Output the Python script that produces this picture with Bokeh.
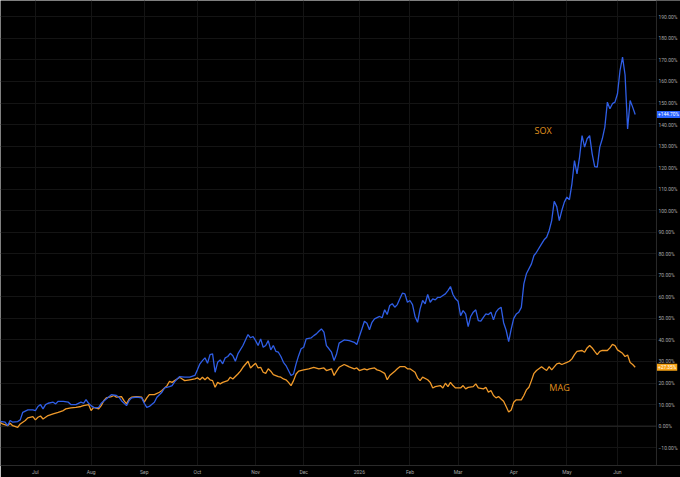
from bokeh.plotting import figure
from bokeh.models import FixedTicker, Label, Span, Range1d, BoxAnnotation
from bokeh.embed import file_html
from bokeh.resources import INLINE

# ---- data (x = trading-day index from chart start, y = % change) ----
sox_x = [0, 2, 3, 4, 5, 7, 8, 9, 11, 13, 14, 15, 16, 17, 18, 19, 21, 22, 23, 25, 27, 28, 30, 32, 33, 34, 35, 36, 37, 38,
         39, 40, 42, 44, 46, 47, 48, 50, 51, 52, 54, 56, 57, 58, 59, 61, 62, 64, 65, 67, 68, 69, 70, 71, 73, 75, 77, 78,
         79, 80, 81, 82, 83, 84, 85, 86, 87, 88, 89, 90, 91, 92, 93, 94, 96, 97, 98, 99, 100, 101, 102, 103, 104, 105,
         106, 107, 108, 109, 110, 111, 112, 113, 114, 115, 116, 117, 118, 119, 120, 121, 123, 124, 125, 126, 127, 128,
         129, 130, 131, 132, 133, 134, 136, 138, 140, 141, 142, 143, 144, 145, 146, 147, 148, 150, 151, 152, 153, 154,
         155, 156, 157, 158, 159, 160, 161, 162, 163, 164, 165, 166, 167, 168, 169, 170, 171, 172, 173, 174, 175, 176,
         177, 178, 179, 180, 181, 182, 183, 184, 185, 186, 187, 188, 189, 190, 191, 192, 193, 194, 195, 196, 197, 198,
         199, 200, 201, 202, 203, 204, 205, 206, 207, 208, 210, 211, 212, 214, 215, 216, 217, 218, 219, 220, 221, 222,
         223, 224, 225, 226, 227, 228, 229, 230, 231, 232, 233, 234, 235, 236, 237, 238, 239, 240, 241, 242, 243, 244,
         245, 246, 247, 248, 249, 250, 251]
sox_y = [2.2, 1.8, 0.2, 2.6, 1.8, 2.1, 2.9, 6.4, 7.5, 7.5, 7.2, 9.1, 10.0, 8.0, 10.0, 10.6, 11.1, 10.3, 11.5, 11.5, 11.1,
         10.0, 10.0, 11.1, 10.6, 12.3, 10.6, 9.5, 8.7, 8.5, 8.7, 10.6, 12.6, 14.6, 14.2, 13.4, 11.8, 9.5, 11.8, 13.1,
         13.4, 13.1, 10.6, 8.7, 9.1, 11.1, 13.4, 15.7, 17.7, 18.3, 18.8, 20.5, 21.9, 23.0, 22.7, 22.7, 23.5, 26.1, 28.9,
         30.4, 31.7, 29.2, 33.2, 33.5, 25.0, 29.6, 30.7, 28.9, 31.7, 32.3, 33.8, 32.7, 30.1, 33.5, 37.4, 40.0, 42.5,
         41.0, 41.6, 39.7, 37.4, 40.5, 36.6, 37.4, 39.7, 35.4, 37.4, 34.7, 34.3, 32.3, 29.6, 28.1, 25.8, 23.5, 24.2,
         28.9, 32.7, 35.9, 36.6, 40.5, 41.0, 42.0, 42.8, 44.0, 45.1, 43.6, 37.4, 35.9, 34.3, 30.4, 33.5, 38.5, 40.0,
         39.7, 38.9, 37.9, 41.6, 45.1, 48.7, 47.7, 44.7, 48.2, 49.8, 50.9, 50.3, 54.0, 51.8, 56.0, 56.8, 55.2, 56.4,
         59.1, 61.7, 61.4, 57.5, 58.3, 56.4, 50.9, 48.2, 54.4, 58.3, 56.8, 61.1, 57.5, 59.1, 58.6, 59.8, 59.8, 60.6,
         61.4, 62.9, 64.8, 61.1, 59.1, 58.0, 51.3, 53.6, 52.1, 46.2, 50.9, 52.9, 54.0, 49.0, 48.7, 50.5, 52.1, 51.8,
         52.9, 49.3, 52.9, 54.4, 55.2, 48.0, 44.5, 39.2, 45.0, 50.0, 52.0, 52.9, 55.1, 66.0, 70.7, 75.3, 79.2, 80.7,
         84.6, 86.5, 87.7, 90.8, 95.4, 104.4, 101.9, 95.4, 100.1, 104.0, 106.3, 105.1, 112.5, 123.3, 117.1, 124.8,
         134.9, 129.5, 133.4, 134.9, 126.4, 120.5, 120.2, 129.5, 133.4, 138.8, 150.4, 147.3, 149.7, 150.4, 154.3,
         165.1, 171.3, 163.0, 138.0, 151.2, 148.1, 144.7]

mag_x = [0, 1, 3, 4, 5, 7, 8, 10, 11, 13, 14, 15, 16, 17, 19, 21, 23, 25, 26, 28, 30, 32, 33, 35, 36, 37, 39, 40, 41, 42,
         44, 45, 46, 48, 49, 50, 51, 52, 54, 56, 57, 58, 59, 61, 63, 64, 66, 67, 68, 69, 70, 71, 72, 73, 75, 77, 78, 79,
         80, 81, 82, 83, 84, 85, 86, 87, 88, 90, 91, 92, 94, 95, 96, 98, 99, 100, 101, 102, 103, 104, 105, 106, 107,
         108, 110, 111, 112, 113, 114, 115, 116, 117, 118, 120, 122, 124, 126, 128, 129, 131, 132, 133, 134, 136, 137,
         138, 140, 141, 142, 144, 145, 146, 148, 149, 150, 152, 153, 154, 156, 157, 158, 160, 161, 162, 164, 165, 166,
         167, 169, 170, 171, 172, 174, 175, 176, 177, 178, 179, 180, 182, 183, 184, 185, 187, 188, 189, 191, 192, 193,
         194, 195, 196, 197, 198, 199, 200, 201, 202, 203, 204, 206, 207, 208, 209, 210, 211, 212, 214, 215, 216, 217,
         218, 220, 221, 222, 224, 225, 226, 227, 228, 230, 231, 232, 233, 234, 235, 236, 237, 238, 240, 241, 242, 243,
         244, 246, 247, 248, 249, 250, 251]
mag_y = [1.8, 1.0, 0.2, 1.3, 0.2, -0.6, 1.0, 2.6, 3.8, 4.4, 2.9, 4.1, 4.7, 3.3, 4.9, 5.7, 6.4, 7.2, 8.0, 8.5, 8.7, 9.1,
         9.5, 10.0, 7.2, 8.7, 8.0, 9.5, 11.8, 13.1, 13.7, 14.2, 13.4, 13.7, 11.8, 10.3, 12.6, 13.4, 13.7, 13.4, 11.1,
         13.1, 14.6, 14.6, 15.7, 16.5, 18.8, 20.8, 20.3, 21.1, 21.9, 22.7, 21.9, 21.1, 21.5, 21.9, 22.4, 21.5, 22.7,
         21.5, 22.7, 21.5, 21.1, 18.0, 20.3, 19.6, 20.3, 21.1, 22.7, 21.9, 24.2, 25.5, 27.3, 30.1, 27.0, 28.1, 29.2,
         27.0, 27.3, 25.0, 24.5, 26.6, 25.5, 23.9, 23.0, 22.7, 21.9, 21.5, 20.3, 18.8, 21.1, 24.2, 25.5, 26.1, 26.6,
         27.3, 26.6, 27.0, 25.8, 26.6, 23.5, 25.5, 27.3, 28.6, 28.1, 27.5, 26.6, 27.0, 25.8, 26.6, 26.1, 26.6, 27.0,
         26.1, 25.8, 24.5, 21.5, 23.5, 25.5, 26.6, 27.6, 27.6, 26.6, 26.6, 25.0, 22.4, 21.1, 22.7, 21.5, 20.3, 17.7,
         18.3, 18.8, 17.7, 19.9, 18.3, 20.3, 18.8, 17.7, 17.7, 18.8, 17.3, 18.0, 18.3, 19.6, 17.7, 17.3, 18.0, 15.7,
         16.5, 14.2, 13.1, 13.7, 12.6, 11.5, 9.1, 6.5, 7.5, 11.1, 12.2, 12.2, 14.2, 16.8, 18.0, 21.1, 24.5, 25.8,
         27.6, 26.6, 25.8, 27.6, 26.1, 28.9, 29.2, 28.6, 29.6, 30.1, 31.2, 33.2, 34.7, 35.1, 34.3, 36.3, 37.4, 36.3,
         34.7, 33.2, 34.7, 35.1, 35.1, 36.3, 37.9, 37.4, 35.4, 33.8, 32.3, 33.0, 29.5, 28.6, 27.35]

month_ticks = [14, 36, 57, 78, 101, 120, 142, 162, 181, 203, 224, 244]
month_labels = ["Jul", "Aug", "Sep", "Oct", "Nov", "Dec", "2026", "Feb", "Mar", "Apr", "May", "Jun"]
pct_ticks = [-10, 0, 10, 20, 30, 40, 50, 60, 70, 80, 90, 100, 110, 120, 130, 140, 150, 160, 170, 180, 190]
pct_labels = ["\u221210.00%", "0.00%", "10.00%", "20.00%", "30.00%", "40.00%", "50.00%", "60.00%", "70.00%",
              "80.00%", "90.00%", "100.00%", "110.00%", "120.00%", "130.00%", "140.00%", "150.00%", "160.00%",
              "170.00%", "180.00%", "190.00%"]
series_names = ["SOX", "MAG"]
last_labels = ["+144.70%", "+27.35%"]

BLUE = "#2f5ee6"
ORANGE = "#f09a2a"
TEXT_ORANGE = "#e0921e"
TICK_FONT = "Roboto"
BG = "#000000"

# price-scale column: the last 24 px of the 680 px frame (data end at 259.4, 2.531 px per bar)
DATA_END = 259.4
SCALE_END = 268.9

p = figure(frame_width=680, frame_height=465, output_backend="svg", toolbar_location=None,
           x_range=Range1d(0.2, SCALE_END), y_range=Range1d(-18.3, 197.6), y_axis_location="right",
           background_fill_color=BG, border_fill_color=BG,
           min_border_left=0, min_border_top=0, min_border_right=0, min_border_bottom=12)
p.outline_line_color = None

# grids
p.xgrid.ticker = FixedTicker(ticks=month_ticks)
p.xgrid.grid_line_color = "#141414"
p.ygrid.grid_line_color = "#141414"
p.add_layout(Span(location=0, dimension="width", line_color="#2a2a2a", line_width=1, level="underlay"))
# price-scale column background (hides grid lines there) and its separator
p.add_layout(BoxAnnotation(left=DATA_END, fill_color=BG, fill_alpha=1.0, line_color=None, level="underlay"))
p.add_layout(Span(location=DATA_END, dimension="height", line_color="#2a2a2a", line_width=1))

# axes
for ax in (p.xaxis[0], p.yaxis[0]):
    ax.axis_line_color = "#2a2a2a"
    ax.major_tick_line_color = None
    ax.minor_tick_line_color = None
    ax.major_tick_out = 0
    ax.major_tick_in = 0
    ax.major_label_text_font = TICK_FONT
    ax.major_label_text_font_size = "5px"
    ax.major_label_text_color = "#a6a6a6"
    ax.major_label_standoff = 3

p.yaxis[0].axis_line_color = None
p.yaxis[0].major_label_standoff = -22

p.xaxis[0].ticker = FixedTicker(ticks=month_ticks)
p.xaxis[0].major_label_overrides = {t: s for t, s in zip(month_ticks, month_labels)}
p.yaxis[0].ticker = FixedTicker(ticks=pct_ticks)
p.yaxis[0].major_label_overrides = {t: s for t, s in zip(pct_ticks, pct_labels)}

# lines
p.line(mag_x, mag_y, line_color=ORANGE, line_width=1.3)
p.line(sox_x, sox_y, line_color=BLUE, line_width=1.3)

# series name labels
p.add_layout(Label(x=214.6, y=137.2, text=series_names[0], text_color=TEXT_ORANGE, text_font="Open Sans",
                   text_font_size="9px", text_align="center", text_baseline="middle"))
p.add_layout(Label(x=221.1, y=18.0, text=series_names[1], text_color=TEXT_ORANGE, text_font="Open Sans",
                   text_font_size="9px", text_align="center", text_baseline="middle"))

# last value tags on the price scale
p.add_layout(Label(x=DATA_END, y=sox_y[-1], text=last_labels[0], text_color="#ffffff",
                   text_font=TICK_FONT, text_font_size="4.8px", text_baseline="middle", text_align="left",
                   background_fill_color="#2962ff", padding=1, x_offset=0.5, level="overlay"))
p.add_layout(Label(x=DATA_END, y=mag_y[-1], text=last_labels[1], text_color="#ffffff",
                   text_font=TICK_FONT, text_font_size="4.8px", text_baseline="middle", text_align="left",
                   background_fill_color="#f5a214", padding=1, x_offset=0.5, level="overlay"))

open("out.html", "w").write(file_html(p, INLINE))
